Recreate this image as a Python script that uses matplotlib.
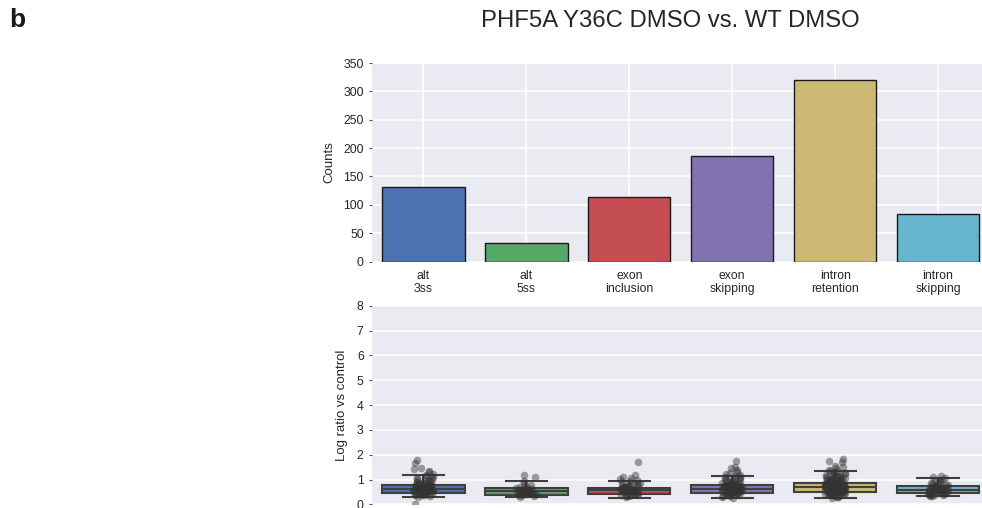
import numpy as np
import matplotlib
matplotlib.use("Agg")
import matplotlib.pyplot as plt

# event categories and counts
categories = ["alt\n3ss", "alt\n5ss", "exon\ninclusion", "exon\nskipping",
              "intron\nretention", "intron\nskipping"]
counts = [132, 32, 114, 186, 320, 84]
colors = ["#4C72B0", "#55A868", "#C44E52", "#8172B2", "#CCB974", "#64B5CD"]

# box summaries for the log ratios
box_med = [0.61, 0.53, 0.59, 0.63, 0.70, 0.59]
box_q1 = [0.45, 0.39, 0.41, 0.47, 0.51, 0.44]
box_q3 = [0.79, 0.67, 0.68, 0.80, 0.87, 0.75]
box_lo = [0.29, 0.29, 0.27, 0.27, 0.25, 0.33]
box_hi = [1.20, 0.94, 0.94, 1.16, 1.34, 1.08]

# individual log ratios per category
ratios_alt3ss = [0.03, 0.31, 0.34, 0.36, 0.37, 0.38, 0.40, 0.42, 0.43, 0.44, 0.45,
                 0.46, 0.47, 0.48, 0.49, 0.50, 0.51, 0.52, 0.52, 0.53, 0.54, 0.55,
                 0.55, 0.56, 0.57, 0.58, 0.58, 0.59, 0.60, 0.60, 0.61, 0.61, 0.62,
                 0.63, 0.63, 0.64, 0.65, 0.66, 0.66, 0.67, 0.68, 0.69, 0.70, 0.71,
                 0.72, 0.73, 0.74, 0.75, 0.76, 0.77, 0.78, 0.79, 0.80, 0.81, 0.83,
                 0.84, 0.85, 0.87, 0.88, 0.90, 0.92, 0.93, 0.96, 0.98, 1.00, 1.04,
                 1.06, 1.08, 1.12, 1.15, 1.18, 1.22, 1.30, 1.33, 1.42, 1.46, 1.68,
                 1.80]
ratios_alt5ss = [0.30, 0.33, 0.36, 0.38, 0.40, 0.41, 0.42, 0.44, 0.46, 0.47, 0.48,
                 0.50, 0.51, 0.52, 0.52, 0.53, 0.54, 0.55, 0.56, 0.57, 0.58, 0.60,
                 0.61, 0.62, 0.64, 0.66, 0.68, 0.70, 0.72, 0.78, 0.85, 0.93, 1.10,
                 1.20]
ratios_exon_incl = [0.28, 0.32, 0.35, 0.36, 0.38, 0.40, 0.42, 0.43, 0.44, 0.46,
                    0.47, 0.48, 0.50, 0.51, 0.52, 0.53, 0.54, 0.55, 0.56, 0.57,
                    0.57, 0.58, 0.59, 0.60, 0.60, 0.61, 0.62, 0.62, 0.63, 0.64,
                    0.65, 0.65, 0.66, 0.67, 0.68, 0.69, 0.71, 0.72, 0.74, 0.77,
                    0.79, 0.80, 0.84, 0.86, 0.88, 0.92, 0.95, 0.98, 1.03, 1.08,
                    1.12, 1.18, 1.70]
ratios_exon_skip = [0.27, 0.30, 0.33, 0.35, 0.36, 0.38, 0.40, 0.41, 0.42, 0.44,
                    0.45, 0.46, 0.47, 0.48, 0.49, 0.50, 0.51, 0.52, 0.52, 0.53,
                    0.54, 0.55, 0.55, 0.56, 0.57, 0.57, 0.58, 0.59, 0.59, 0.60,
                    0.61, 0.61, 0.62, 0.62, 0.63, 0.63, 0.64, 0.64, 0.65, 0.66,
                    0.66, 0.67, 0.68, 0.68, 0.69, 0.70, 0.70, 0.71, 0.72, 0.73,
                    0.74, 0.75, 0.76, 0.77, 0.78, 0.79, 0.80, 0.81, 0.82, 0.84,
                    0.85, 0.86, 0.88, 0.89, 0.92, 0.93, 0.95, 0.97, 0.99, 1.01,
                    1.03, 1.07, 1.09, 1.12, 1.15, 1.18, 1.22, 1.25, 1.30, 1.38,
                    1.45, 1.52, 1.75]
ratios_intron_ret = [0.25, 0.28, 0.31, 0.33, 0.35, 0.37, 0.39, 0.40, 0.41, 0.42,
                     0.43, 0.44, 0.45, 0.46, 0.47, 0.48, 0.49, 0.49, 0.50, 0.51,
                     0.52, 0.52, 0.53, 0.53, 0.54, 0.55, 0.55, 0.56, 0.56, 0.57,
                     0.58, 0.58, 0.59, 0.59, 0.60, 0.60, 0.61, 0.61, 0.62, 0.62,
                     0.63, 0.63, 0.64, 0.64, 0.65, 0.65, 0.66, 0.66, 0.67, 0.67,
                     0.68, 0.68, 0.69, 0.69, 0.70, 0.70, 0.71, 0.71, 0.72, 0.72,
                     0.73, 0.73, 0.74, 0.74, 0.75, 0.75, 0.76, 0.76, 0.77, 0.77,
                     0.78, 0.78, 0.79, 0.79, 0.80, 0.80, 0.81, 0.81, 0.82, 0.83,
                     0.83, 0.84, 0.85, 0.85, 0.86, 0.87, 0.87, 0.88, 0.89, 0.90,
                     0.91, 0.92, 0.93, 0.94, 0.95, 0.96, 0.97, 0.98, 0.99, 1.00,
                     1.02, 1.03, 1.05, 1.06, 1.08, 1.09, 1.11, 1.12, 1.14, 1.16,
                     1.18, 1.20, 1.22, 1.25, 1.28, 1.30, 1.34, 1.36, 1.40, 1.45,
                     1.50, 1.55, 1.70, 1.75, 1.82]
ratios_intron_skip = [0.33, 0.35, 0.37, 0.38, 0.39, 0.41, 0.42, 0.43, 0.44, 0.46,
                      0.47, 0.48, 0.50, 0.51, 0.52, 0.54, 0.55, 0.55, 0.56, 0.57,
                      0.58, 0.58, 0.59, 0.60, 0.61, 0.61, 0.62, 0.63, 0.64, 0.66,
                      0.67, 0.68, 0.70, 0.71, 0.72, 0.75, 0.76, 0.78, 0.80, 0.82,
                      0.86, 0.88, 0.90, 0.95, 0.98, 1.00, 1.05, 1.10, 1.15]
ratios = [ratios_alt3ss, ratios_alt5ss, ratios_exon_incl, ratios_exon_skip,
          ratios_intron_ret, ratios_intron_skip]

plt.rcParams["font.family"] = ["Liberation Sans", "DejaVu Sans"]
text_col = "#262626"
line_col = "#3f3f3f"

fig = plt.figure(figsize=(9.82, 5.08), dpi=100)
W, H = 982.0, 508.0


def style_axes(ax):
    ax.set_facecolor("#EAEAF2")
    for s in ax.spines.values():
        s.set_visible(False)
    ax.set_axisbelow(True)
    ax.tick_params(axis="both", length=2, width=0.8, color="#555555",
                   labelsize=8.8, labelcolor=text_col, pad=4)


# counts per event type
ax1 = fig.add_axes([372 / W, 1 - 261.5 / H, 617.5 / W, 198.5 / H])
style_axes(ax1)
x = np.arange(len(categories))
ax1.bar(x, counts, width=0.8, color=colors, edgecolor="#1a1a1a", linewidth=1.0)
ax1.set_xlim(-0.5, 5.5)
ax1.set_ylim(0, 350)
ax1.set_yticks(np.arange(0, 351, 50))
ax1.set_xticks(x)
ax1.set_xticklabels(categories, linespacing=1.15)
ax1.tick_params(axis="x", length=0, pad=6)
ax1.grid(True, color="white", linewidth=1.1)
ax1.set_ylabel("Counts", fontsize=9.5, color=text_col)
ax1.yaxis.set_label_coords(-0.059, 0.5)

# log ratios: boxes with points on top
ax2 = fig.add_axes([372 / W, 1 - 504.4 / H, 617.5 / W, 198.6 / H])
style_axes(ax2)
stats = [dict(med=m, q1=a, q3=b, whislo=lo, whishi=hi, fliers=[])
         for m, a, b, lo, hi in zip(box_med, box_q1, box_q3, box_lo, box_hi)]
bp = ax2.bxp(stats, positions=x, widths=0.8, patch_artist=True, showfliers=False,
             boxprops=dict(edgecolor=line_col, linewidth=1.5),
             medianprops=dict(color=line_col, linewidth=1.5),
             whiskerprops=dict(color=line_col, linewidth=1.5),
             capprops=dict(color=line_col, linewidth=1.5))
for patch, c in zip(bp["boxes"], colors):
    patch.set_facecolor(c)

rng = np.random.default_rng(3)
for i, vals in enumerate(ratios):
    jitter = rng.uniform(-0.1, 0.1, len(vals))
    ax2.scatter(i + jitter, vals, s=30, color="#333333", alpha=0.45,
                linewidths=0, zorder=3)

ax2.set_xlim(-0.5, 5.5)
ax2.set_ylim(0, 8)
ax2.set_yticks(np.arange(0, 9, 1))
ax2.set_xticks(x)
ax2.set_xticklabels([])
ax2.tick_params(axis="x", length=0)
ax2.grid(True, axis="y", color="white", linewidth=1.1)
ax2.grid(False, axis="x")
ax2.set_ylabel("Log ratio vs control", fontsize=9.5, color=text_col)
ax2.yaxis.set_label_coords(-0.039, 0.5)

fig.text(670 / W, 1 - 21 / H, "PHF5A Y36C DMSO vs. WT DMSO", fontsize=17.2,
         color=text_col, ha="center", va="center")
fig.text(9 / W, 1 - 20 / H, "b", fontsize=19, fontweight="bold",
         color="#1a1a1a", ha="left", va="center")

fig.savefig("out.png", dpi=100)
